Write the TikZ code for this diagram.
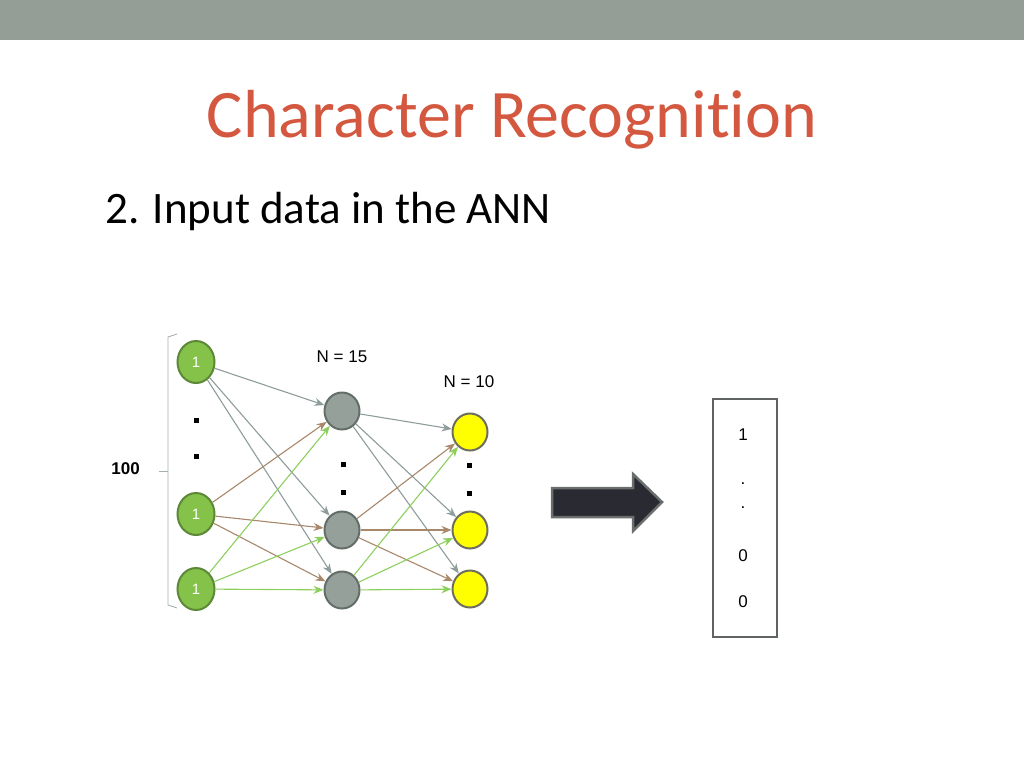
\documentclass[tikz,border=0pt]{standalone}
\usepackage{fontspec}
\setmainfont[Ligatures=NoCommon]{Carlito}
\newfontfamily\arialfont{Liberation Sans}
\usetikzlibrary{shapes, calc, arrows.meta}

\definecolor{barGray}{HTML}{949E97}
\definecolor{titleRed}{HTML}{D4583F}
\definecolor{inFill}{HTML}{85C24A}
\definecolor{inLine}{HTML}{5C8838}
\definecolor{hidFill}{HTML}{95A09A}
\definecolor{hidLine}{HTML}{646E69}
\definecolor{outFill}{HTML}{FFFF00}
\definecolor{outLine}{HTML}{6E6E5E}
\definecolor{edgeGray}{HTML}{8E9C9C}
\definecolor{edgeBrown}{HTML}{A8876A}
\definecolor{edgeGreen}{HTML}{8DCF5C}
\definecolor{arrowDark}{HTML}{2A2A33}
\definecolor{arrowLine}{HTML}{6A6E6C}

\tikzset{
	neuron/.style={draw, ellipse, line width=2pt, inner sep=0pt,
		minimum width=35pt, minimum height=37pt},
	innode/.style={neuron, fill=inFill, draw=inLine, minimum width=37pt,
		minimum height=42pt, text=white, font=\arialfont\fontsize{15}{18}\selectfont},
	hidnode/.style={neuron, fill=hidFill, draw=hidLine},
	outnode/.style={neuron, fill=outFill, draw=outLine},
	link/.style={->, line width=1.1pt, >={Stealth[length=10pt, width=8pt]}},
	dotmark/.style={fill=black, inner sep=0pt, minimum size=5pt},
	smalltext/.style={font=\arialfont\fontsize{17}{20}\selectfont}
}

\begin{document}
\begin{tikzpicture}[x=1pt, y=-1pt]
	\useasboundingbox (0,0) rectangle (1024,768);
	\fill[barGray] (0,0) rectangle (1024,40);

	\node[anchor=base, text=titleRed, font=\fontsize{68}{76}\selectfont] (title)
		at (512,137) {Character Recognition};
	\node[anchor=base west, inner sep=0pt, font=\fontsize{45}{52}\selectfont] (subtitle)
		at (105,223) {2. Input data in the ANN};

	% input layer
	\node[innode] (intop) at (196,362) {1};
	\node[innode] (inmid) at (196,514) {1};
	\node[innode] (inbot) at (196,589) {1};
	\node[dotmark] (indotA) at (196,420) {};
	\node[dotmark] (indotB) at (196,456) {};

	% hidden layer
	\node[hidnode] (hidtop) at (342,411) {};
	\node[hidnode] (hidmid) at (342,530) {};
	\node[hidnode] (hidbot) at (342,590) {};
	\node[dotmark] (hiddotA) at (343,464) {};
	\node[dotmark] (hiddotB) at (343,492) {};

	% output layer
	\node[outnode] (outtop) at (470,432) {};
	\node[outnode] (outmid) at (470,530) {};
	\node[outnode] (outbot) at (470,589) {};
	\node[dotmark] (outdotA) at (469,465) {};
	\node[dotmark] (outdotB) at (469,493) {};

	\node[smalltext] (hidcount) at (342,357) {N = 15};
	\node[smalltext] (outcount) at (469,382) {N = 10};

	% bracket
	\draw[edgeGray!80, line width=0.9pt] (177,334) -- (168,337) -- (168,605) -- (177,608);
	\coordinate (bracemid) at (168,471);
	\coordinate (bracetip) at (159,471);
	\draw[edgeGray!80, line width=0.9pt] (bracemid) -- (bracetip);
	\node[anchor=east, inner sep=0pt, font=\arialfont\bfseries\fontsize{17}{20}\selectfont] (incount)
		at (140,469) {100};

	% links
	\draw[link, edgeGray] (intop) -- (hidtop);
	\draw[link, edgeGray] (intop) -- (hidmid);
	\draw[link, edgeGray] (intop) -- (hidbot);
	\draw[link, edgeBrown] (inmid) -- (hidtop);
	\draw[link, edgeBrown] (inmid) -- (hidmid);
	\draw[link, edgeBrown] (inmid) -- (hidbot);
	\draw[link, edgeGreen] (inbot) -- (hidtop);
	\draw[link, edgeGreen] (inbot) -- (hidmid);
	\draw[link, edgeGreen] (inbot) -- (hidbot);

	\draw[link, edgeGray] (hidtop) -- (outtop);
	\draw[link, edgeGray] (hidtop) -- (outmid);
	\draw[link, edgeGray] (hidtop) -- (outbot);
	\draw[link, edgeBrown] (hidmid) -- (outtop);
	\draw[link, edgeBrown] (hidmid) -- (outmid);
	\draw[link, edgeBrown] (hidmid) -- (outbot);
	\draw[link, edgeGreen] (hidbot) -- (outtop);
	\draw[link, edgeGreen] (hidbot) -- (outmid);
	\draw[link, edgeGreen] (hidbot) -- (outbot);

	% block arrow
	\filldraw[fill=arrowDark, draw=arrowLine, line width=2.5pt, line join=miter]
		(552,488) -- (633,488) -- (633,474) -- (662,502) -- (633,531)
		-- (633,517) -- (552,517) -- cycle;

	% result vector
	\node[draw=arrowLine!90!black, line width=2pt, minimum width=64pt,
		minimum height=238pt] (vector) at (744.5,517.5) {};
	\node[smalltext] (valA) at (743,435) {1};
	\node[smalltext] (valB) at (743,484) {.};
	\node[smalltext] (valC) at (743,508) {.};
	\node[smalltext] (valD) at (743,556) {0};
	\node[smalltext] (valE) at (743,602) {0};
\end{tikzpicture}
\end{document}
